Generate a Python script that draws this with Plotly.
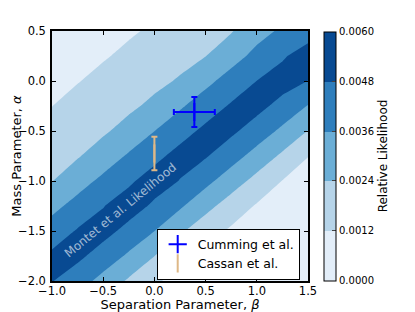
import plotly.graph_objects as go

# ---------------- data ----------------
beta = [-1.0, -0.75, -0.5, -0.25, 0.0, 0.25, 0.5, 0.75, 1.0, 1.25, 1.5]
alpha = [-2.0, -1.75, -1.5, -1.25, -1.0, -0.75, -0.5, -0.25, 0.0, 0.25, 0.5]
# relative likelihood (x 1e-3); rows follow alpha, columns follow beta
likelihood_e3 = [
    [4.85, 4.12, 3.22, 2.23, 1.33, 0.89, 0.54, 0.35, 0.27, 0.19, 0.12],
    [5.03, 5.07, 4.28, 3.41, 2.41, 1.50, 0.96, 0.60, 0.37, 0.29, 0.21],
    [4.16, 4.90, 5.20, 4.44, 3.61, 2.59, 1.67, 1.03, 0.67, 0.38, 0.30],
    [3.26, 4.02, 4.76, 5.33, 4.60, 3.76, 2.78, 1.84, 1.10, 0.74, 0.40],
    [2.37, 3.11, 3.88, 4.62, 5.33, 4.76, 3.92, 2.98, 2.02, 1.17, 0.81],
    [1.97, 2.31, 2.96, 3.74, 4.48, 5.20, 4.90, 4.08, 3.17, 2.19, 1.22],
    [1.58, 1.91, 2.24, 2.81, 3.59, 4.34, 5.07, 5.03, 4.24, 3.36, 2.36],
    [1.19, 1.52, 1.85, 2.18, 2.66, 3.45, 4.20, 4.93, 5.17, 4.40, 3.55],
    [0.98, 1.16, 1.45, 1.78, 2.12, 2.51, 3.30, 4.06, 4.81, 5.30, 4.78],
    [0.76, 0.94, 1.12, 1.39, 1.72, 2.05, 2.38, 3.15, 3.92, 4.66, 5.37],
    [0.55, 0.73, 0.91, 1.09, 1.33, 1.66, 1.99, 2.32, 3.20, 3.78, 4.25],
]
level_values = [0.0, 0.0012, 0.0024, 0.0036, 0.0048, 0.0060]
level_labels = ["0.0000", "0.0012", "0.0024", "0.0036", "0.0048", "0.0060"]
band_colors = ["#e3eef9", "#b6d4e9", "#6baed6", "#2e7ebc", "#084a92"]

x_ticks = [-1.0, -0.5, 0.0, 0.5, 1.0, 1.5]
y_ticks = [-2.0, -1.5, -1.0, -0.5, 0.0, 0.5]

cumming_beta = [0.39]
cumming_alpha = [-0.31]
cumming_beta_err = [0.20]
cumming_alpha_err = [0.15]

cassan_beta = [0.0]
cassan_alpha = [-0.725]
cassan_alpha_err = [0.168]

FONT = "DejaVu Sans"

z = [[v * 1e-3 for v in row] for row in likelihood_e3]

# stepped colour scale: one flat colour per band
n = len(band_colors)
colorscale = []
for i, c in enumerate(band_colors):
    colorscale.append([i / n, c])
    colorscale.append([(i + 1) / n, c])

fig = go.Figure()

fig.add_trace(go.Contour(
    x=beta, y=alpha, z=z,
    zmin=level_values[0], zmax=level_values[-1], zauto=False,
    colorscale=colorscale,
    contours=dict(start=level_values[0], end=level_values[-1],
                  size=level_values[1] - level_values[0],
                  coloring="fill", showlines=False),
    line=dict(width=0, smoothing=0),
    showlegend=False,
    hoverinfo="skip",
    colorbar=dict(
        x=1.064, xanchor="left", xref="paper",
        y=0.5, yanchor="middle", len=0.995, lenmode="fraction",
        thickness=12, thicknessmode="pixels",
        outlinecolor="black", outlinewidth=1,
        tickvals=level_values, ticktext=level_labels,
        ticks="inside", ticklen=4, tickcolor="#444",
        tickfont=dict(family=FONT, size=10, color="black"),
        title=dict(text="Relative Likelihood", side="right",
                   font=dict(family=FONT, size=12, color="black")),
        xpad=0, ypad=0,
    ),
))

fig.add_trace(go.Scatter(
    x=cumming_beta, y=cumming_alpha, mode="markers",
    name="Cumming et al.",
    marker=dict(symbol="cross-thin", size=13, color="#0000ff",
                line=dict(color="#0000ff", width=2)),
    error_x=dict(type="data", array=cumming_beta_err, color="#0000ff",
                 thickness=2, width=3),
    error_y=dict(type="data", array=cumming_alpha_err, color="#0000ff",
                 thickness=2, width=3),
    hoverinfo="skip",
))

fig.add_trace(go.Scatter(
    x=cassan_beta, y=cassan_alpha, mode="markers",
    name="Cassan et al.",
    marker=dict(symbol="line-ns", size=13, color="#deb887",
                line=dict(color="#deb887", width=2)),
    error_y=dict(type="data", array=cassan_alpha_err, color="#deb887",
                 thickness=2, width=3),
    hoverinfo="skip",
))

fig.add_annotation(
    x=-0.33, y=-1.29, xref="x", yref="y",
    text="Montet et al. Likelihood", showarrow=False,
    textangle=-39.5,
    font=dict(family=FONT, size=12, color="rgba(255,255,255,0.62)"),
)

# y-axis title placed as a rotated annotation left of the tick labels
fig.add_annotation(
    x=-0.142, y=0.5, xref="paper", yref="paper",
    xanchor="center", yanchor="middle",
    text="Mass Parameter, <i>α</i>", showarrow=False, textangle=-90,
    font=dict(family=FONT, size=13, color="black"),
)

axis_common = dict(
    showline=True, linecolor="black", linewidth=1.5, mirror="allticks",
    ticks="inside", ticklen=4, tickcolor="black", tickwidth=1,
    showgrid=False, zeroline=False,
    tickfont=dict(family=FONT, size=11.5, color="black"),
    tickformat=".1f",
)

# the page adds an 8px body margin, so the figure is 8px smaller and
# its margins are shifted by 8px to keep the plot area in place
fig.update_layout(
    width=407, height=304,
    margin=dict(l=44, r=106.5, t=23, b=31, autoexpand=False),
    paper_bgcolor="white", plot_bgcolor="white",
    font=dict(family=FONT, size=12, color="black"),
    xaxis=dict(range=[-1.0, 1.5], tickvals=x_ticks,
               ticklabelstandoff=-2,
               title=dict(text="Separation Parameter, <i>β</i>",
                          font=dict(family=FONT, size=13), standoff=6),
               **axis_common),
    yaxis=dict(range=[-2.0, 0.5], tickvals=y_ticks,
               ticklabelstandoff=2,
               **axis_common),
    legend=dict(
        x=0.409, y=0.108, xanchor="left", yanchor="middle",
        bgcolor="white", bordercolor="black", borderwidth=1,
        font=dict(family=FONT, size=12.5, color="black"),
        tracegroupgap=0, itemwidth=30,
    ),
    showlegend=True,
)

fig.write_html("out.html")
